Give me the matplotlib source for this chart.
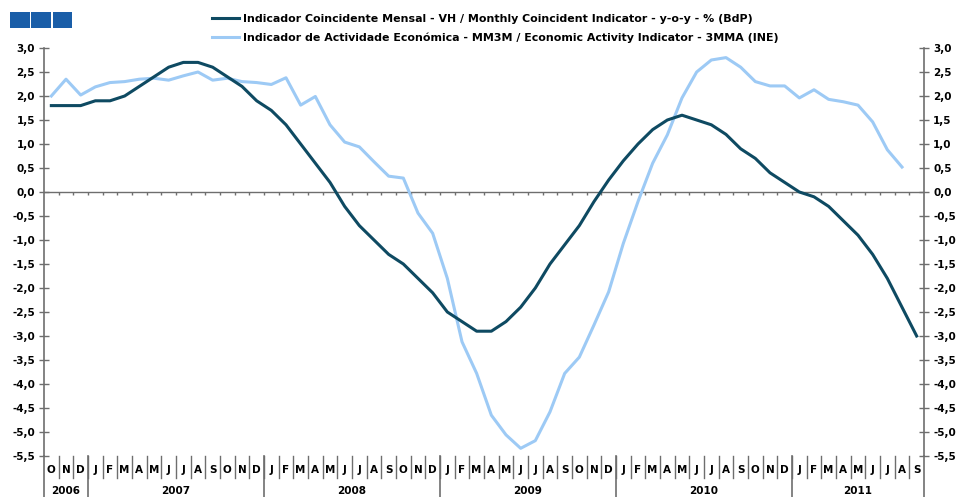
import numpy as np
import matplotlib
matplotlib.use('Agg')
import matplotlib.pyplot as plt
import matplotlib.transforms as mtransforms
from matplotlib.patches import Rectangle

# Meses de Out 2006 a Set 2011
meses = ['O', 'N', 'D'] + ['J', 'F', 'M', 'A', 'M', 'J', 'J', 'A', 'S', 'O', 'N', 'D'] * 4 + \
        ['J', 'F', 'M', 'A', 'M', 'J', 'J', 'A', 'S']
anos = ['2006', '2007', '2008', '2009', '2010', '2011']
meses_por_ano = [3, 12, 12, 12, 12, 9]

# Indicador Coincidente Mensal (BdP) - VH
coincidente = [1.8, 1.8, 1.8,
               1.9, 1.9, 2.0, 2.2, 2.4, 2.6, 2.7, 2.7, 2.6, 2.4, 2.2, 1.9,
               1.7, 1.4, 1.0, 0.6, 0.2, -0.3, -0.7, -1.0, -1.3, -1.5, -1.8, -2.1,
               -2.5, -2.7, -2.9, -2.9, -2.7, -2.4, -2.0, -1.5, -1.1, -0.7, -0.2, 0.25,
               0.65, 1.0, 1.3, 1.5, 1.6, 1.5, 1.4, 1.2, 0.9, 0.7, 0.4, 0.2,
               0.0, -0.1, -0.3, -0.6, -0.9, -1.3, -1.8, -2.4, -3.0]

# Indicador de Actividade Economica (INE) - MM3M
actividade = [2.0, 2.35, 2.02,
              2.19, 2.28, 2.3, 2.35, 2.37, 2.33, 2.42, 2.5, 2.33, 2.37, 2.3, 2.28,
              2.24, 2.38, 1.81, 1.99, 1.4, 1.04, 0.94, 0.63, 0.33, 0.29, -0.44, -0.86,
              -1.8, -3.12, -3.78, -4.65, -5.06, -5.34, -5.18, -4.58, -3.78, -3.44, -2.77, -2.08,
              -1.07, -0.2, 0.6, 1.19, 1.96, 2.5, 2.75, 2.8, 2.6, 2.3, 2.21, 2.21,
              1.96, 2.13, 1.93, 1.88, 1.81, 1.46, 0.88, 0.52]

COR_ESCURA = '#0e4a62'
COR_CLARA = '#9dcaf5'
COR_EIXO = '#6e6e6e'
FONTE = 'DejaVu Sans'

plt.rcParams['font.family'] = FONTE
plt.rcParams['font.weight'] = 'bold'

W, H = 961, 497
fig = plt.figure(figsize=(W / 100, H / 100), dpi=100)
ax = fig.add_axes([44 / W, 41 / H, 880 / W, 408 / H])

x = np.arange(len(meses))
ax.plot(x, coincidente, color=COR_ESCURA, lw=2.2, solid_joinstyle='round',
        label='Indicador Coincidente Mensal - VH / Monthly Coincident Indicator - y-o-y - % (BdP)', zorder=3)
ax.plot(x[:len(actividade)], actividade, color=COR_CLARA, lw=2.2, solid_joinstyle='round',
        label='Indicador de Actividade Económica - MM3M / Economic Activity Indicator - 3MMA (INE)', zorder=2)

ax.set_xlim(-0.5, len(meses) - 0.5)
ax.set_ylim(-5.5, 3.0)

# linha do zero com pequenas marcas entre meses
ax.axhline(0, color=COR_EIXO, lw=1, zorder=1)
fronteiras = x[:-1] + 0.5
ax.vlines(fronteiras, -0.07, 0, color=COR_EIXO, lw=1, zorder=1)

# eixos y (esquerda e direita)
yt = np.round(np.arange(-5.5, 3.01, 0.5), 1)
ax.set_yticks(yt)
ax.set_yticklabels([f'{v:.1f}'.replace('.', ',') for v in yt])
ax.yaxis.set_ticks_position('both')
ax.tick_params(axis='y', direction='inout', length=7, width=1, color=COR_EIXO,
               labelsize=7.5, pad=3, labelright=True)
for s in ['top', 'bottom']:
    ax.spines[s].set_visible(False)
for s in ['left', 'right']:
    ax.spines[s].set_color(COR_EIXO)
    ax.spines[s].set_linewidth(1.2)

# meses no eixo x
ax.set_xticks(x)
ax.set_xticklabels(meses)
ax.tick_params(axis='x', length=0, labelsize=7.5, pad=6.5)

# separadores de meses e anos
trans = mtransforms.blended_transform_factory(ax.transData, fig.transFigure)
y_base = 41 / H
for f in fronteiras:
    ax.plot([f, f], [y_base, 19 / H], transform=trans, color=COR_EIXO, lw=1, clip_on=False)
inicio = -0.5
limites = [inicio]
for n in meses_por_ano:
    limites.append(limites[-1] + n)
for f in limites:
    ax.plot([f, f], [y_base, 0], transform=trans, color=COR_EIXO, lw=1.2, clip_on=False)
for ano, a, b in zip(anos, limites[:-1], limites[1:]):
    ax.text((a + b) / 2, 1 - 491 / H, ano, transform=trans, ha='center', va='center',
            fontsize=7.5, fontweight='bold')

# logotipo
for k in range(3):
    fig.add_artist(Rectangle(((10 + k * 21.3) / W, 1 - 28 / H), 19.5 / W, 16 / H,
                             transform=fig.transFigure, color='#1a5ea8', lw=0))

fig.legend(loc='upper left', bbox_to_anchor=(212 / W, 1 - 14 / H), frameon=False,
           fontsize=7.9, handlelength=2.5, handletextpad=0.3, labelspacing=0.75,
           borderpad=0, borderaxespad=0)

fig.savefig('out.png', dpi=100)
